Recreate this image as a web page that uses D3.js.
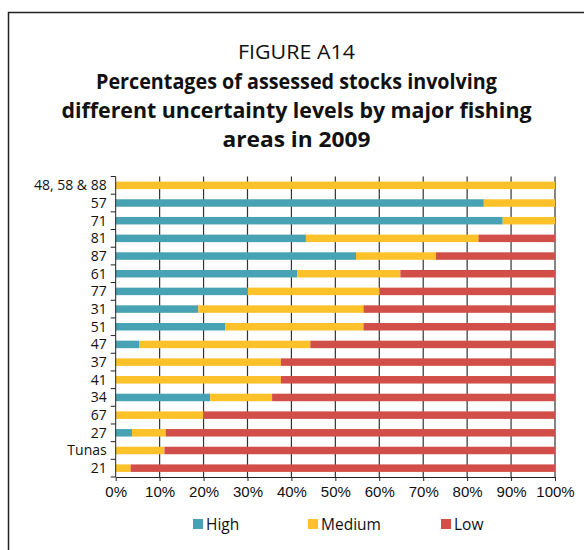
<!DOCTYPE html>
<html><head><meta charset="utf-8">
<script src="https://cdn.jsdelivr.net/npm/d3@7/dist/d3.min.js"></script>
<style>body{margin:0;background:#fff;} svg{display:block;font-family:"Open Sans","Noto Sans",sans-serif;}</style>
</head><body>
<script>
const categories = ["48, 58 & 88","57","71","81","87","61","77","31","51","47","37","41","34","67","27","Tunas","21"];
const high   = [0, 83.8, 88.1, 43.3, 54.7, 41.3, 30.0, 18.8, 24.9, 5.3, 0, 0, 21.5, 0, 3.7, 0, 0];
const medium = [100, 16.2, 11.9, 39.3, 18.2, 23.5, 30.1, 37.6, 31.5, 39.0, 37.6, 37.6, 14.1, 20.0, 7.7, 11.1, 3.4];
const low    = [0, 0, 0, 17.4, 27.1, 35.2, 39.9, 43.6, 43.6, 55.7, 62.4, 62.4, 64.4, 80.0, 88.6, 88.9, 96.6];
const seriesNames = ["High","Medium","Low"];
const colors = ["#47A3B3","#FDC12A","#D14F48"];
const xTicks = [0,10,20,30,40,50,60,70,80,90,100];
const titleLines = ["Percentages of assessed stocks involving","different uncertainty levels by major fishing","areas in 2009"];

const W = 584, H = 550;
const svg = d3.select("body").append("svg").attr("width", W).attr("height", H);

// frame
svg.append("rect").attr("x", 8.5).attr("y", 12.5).attr("width", 600).attr("height", 600)
  .attr("fill", "none").attr("stroke", "#222").attr("stroke-width", 1.5);

// titles
svg.append("text").attr("x", 296.5).attr("y", 59).attr("text-anchor", "middle")
  .attr("font-size", 20.5).attr("fill", "#111")
  .attr("textLength", 117).attr("lengthAdjust", "spacingAndGlyphs").text("FIGURE A14");
const tlen = [401, 470, 148];
titleLines.forEach((t, i) => {
  svg.append("text").attr("x", 296.5).attr("y", 89 + i * 29).attr("text-anchor", "middle")
    .attr("font-size", 20.5).attr("font-weight", "bold").attr("fill", "#111")
    .attr("textLength", tlen[i]).attr("lengthAdjust", "spacingAndGlyphs").text(t);
});

const x = d3.scaleLinear().domain([0, 100]).range([115.7, 555]);
const y = d3.scaleBand().domain(categories).range([176.5, 477]);

// gridlines
svg.append("g").selectAll("line").data(xTicks.slice(1)).join("line")
  .attr("x1", d => x(d)).attr("x2", d => x(d)).attr("y1", 176.5).attr("y2", 477)
  .attr("stroke", "#333").attr("stroke-width", 1.2);

// bars
const rows = categories.map((c, i) => ({cat: c, High: high[i], Medium: medium[i], Low: low[i]}));
const stack = d3.stack().keys(seriesNames)(rows);
const barH = 7.5;
svg.append("g").selectAll("g").data(stack).join("g")
  .attr("fill", (d, i) => colors[i])
  .selectAll("rect").data(d => d).join("rect")
  .attr("x", d => x(d[0])).attr("width", d => Math.max(0, x(d[1]) - x(d[0])))
  .attr("y", d => y(d.data.cat) + y.bandwidth() / 2 - barH / 2).attr("height", barH);

// axes
const xAxis = d3.axisBottom(x).tickValues(xTicks).tickFormat(d => d + "%").tickSize(4).tickSizeOuter(0);
const gx = svg.append("g").attr("transform", "translate(0,477)").call(xAxis);
gx.selectAll("text").attr("font-size", 15).attr("fill", "#111").attr("dy", "0.85em");
gx.selectAll("line,path").attr("stroke", "#222");

const gy = svg.append("g").attr("transform", "translate(115.7,0)");
gy.append("line").attr("y1", 176.5).attr("y2", 477).attr("stroke", "#222");
const bounds = d3.range(categories.length + 1).map(i => y.range()[0] + i * y.step());
gy.selectAll("line.tk").data(bounds).join("line").attr("class", "tk")
  .attr("x1", -5).attr("x2", 0).attr("y1", d => d).attr("y2", d => d).attr("stroke", "#222");
gy.selectAll("text").data(categories).join("text")
  .attr("x", -9).attr("y", d => y(d) + y.bandwidth() / 2).attr("dy", "0.35em")
  .attr("text-anchor", "end").attr("font-size", 14).attr("fill", "#111").text(d => d);

// legend
const legX = [193, 308, 441];
const lg = svg.append("g").selectAll("g").data(seriesNames).join("g")
  .attr("transform", (d, i) => `translate(${legX[i]},519)`);
lg.append("rect").attr("width", 10).attr("height", 10).attr("fill", (d, i) => colors[i]);
lg.append("text").attr("x", 13).attr("y", 10.5).attr("font-size", 15.5).attr("fill", "#111").text(d => d);
</script>
</body></html>
